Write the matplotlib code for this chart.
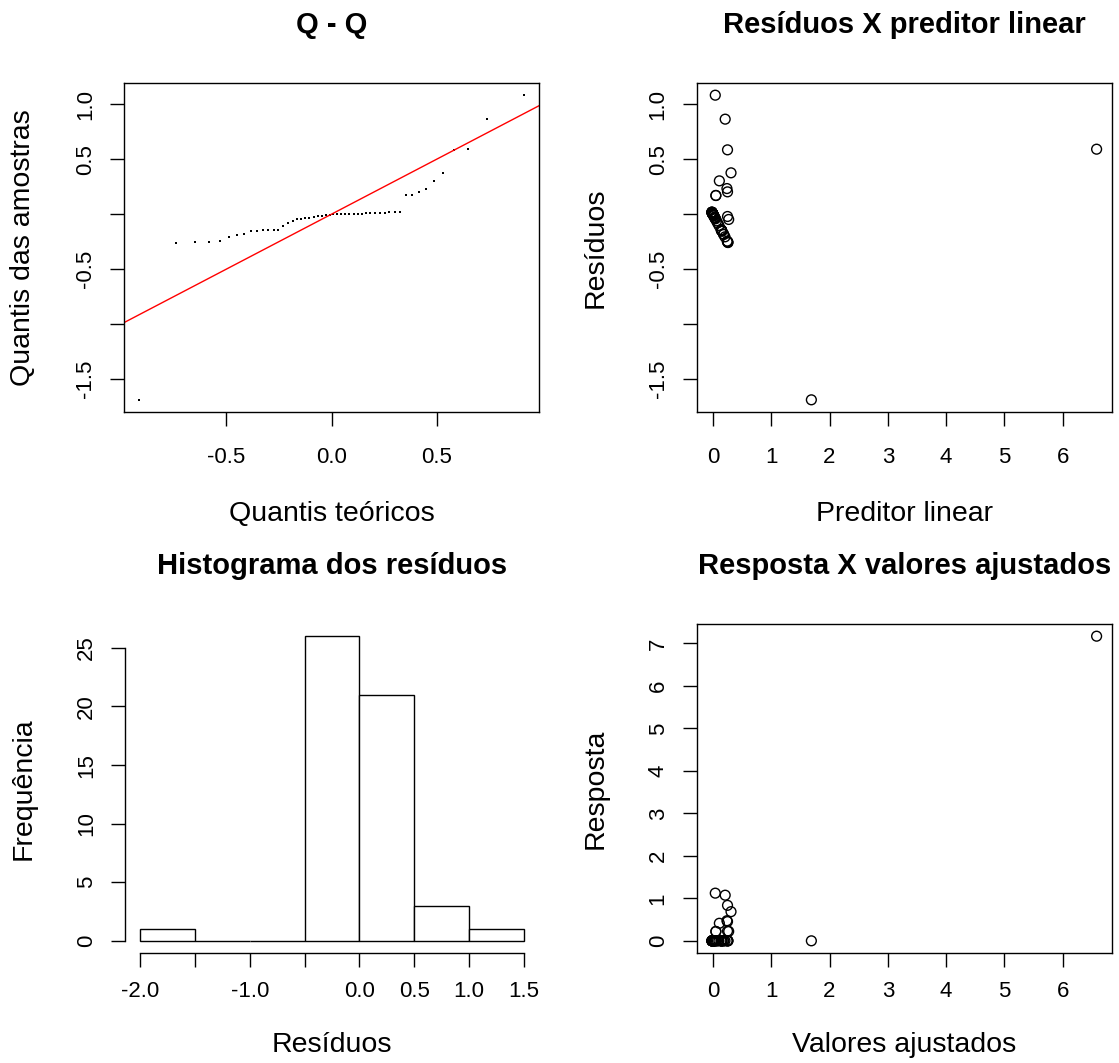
import numpy as np
import matplotlib
matplotlib.use("Agg")
import matplotlib.pyplot as plt

plt.rcParams['font.family'] = ['Liberation Sans', 'DejaVu Sans']

# Valores ajustados (preditor linear) e resíduos de cada observação
ajustados = [
    1.688, 0.258, 0.255, 0.252, 0.245, 0.206, 0.185, 0.179, 0.155, 0.152,
    0.145, 0.145, 0.145, 0.142, 0.103, 0.079, 0.061, 0.042, 0.039, 0.033,
    0.027, 0.015, 0.012, 0.009, 0.002, -0.003, -0.006, -0.006, -0.006, -0.006,
    -0.006, -0.006, -0.009, -0.012, -0.015, -0.015, -0.015, -0.018, -0.018, -0.018,
    0.25, 0.27, 0.05, 0.05, 0.25, 0.24, 0.11, 0.31, 0.25, 6.58,
    0.21, 0.04,
]
residuos = [
    -1.688, -0.258, -0.255, -0.252, -0.245, -0.206, -0.185, -0.179, -0.155, -0.152,
    -0.145, -0.145, -0.145, -0.142, -0.103, -0.079, -0.061, -0.042, -0.039, -0.033,
    -0.027, -0.015, -0.012, -0.009, -0.002, 0.003, 0.006, 0.006, 0.006, 0.006,
    0.006, 0.006, 0.009, 0.012, 0.015, 0.015, 0.015, 0.018, 0.018, 0.018,
    -0.021, -0.048, 0.170, 0.170, 0.203, 0.233, 0.303, 0.376, 0.585, 0.591,
    0.864, 1.082,
]

# Quantis teóricos do gráfico Q-Q
quantis_teoricos = [
    -0.913, -0.740, -0.649, -0.583, -0.531, -0.487, -0.449, -0.414, -0.382, -0.353,
    -0.325, -0.300, -0.275, -0.252, -0.229, -0.207, -0.185, -0.165, -0.144, -0.124,
    -0.105, -0.085, -0.066, -0.047, -0.028, -0.009,
    0.009, 0.028, 0.047, 0.066, 0.085, 0.105, 0.124, 0.144, 0.165, 0.185,
    0.207, 0.229, 0.252, 0.275, 0.300, 0.325, 0.353, 0.382, 0.414, 0.449,
    0.487, 0.531, 0.583, 0.649, 0.740, 0.913,
]

# Limites das classes do histograma
classes = [-2.0, -1.5, -1.0, -0.5, 0.0, 0.5, 1.0, 1.5]
rotulos_classes = ['-2.0', '', '-1.0', '', '0.0', '0.5', '1.0', '1.5']

ticks_res = [1.0, 0.5, 0.0, -0.5, -1.0, -1.5]
rotulos_res = ['1.0', '0.5', '', '-0.5', '', '-1.5']
ticks_qq_x = [-0.5, 0.0, 0.5]
rotulos_qq_x = ['-0.5', '0.0', '0.5']
ticks_pred = [0, 1, 2, 3, 4, 5, 6]
ticks_freq = [0, 5, 10, 15, 20, 25]
ticks_resp = [0, 1, 2, 3, 4, 5, 6, 7]

ajustados = np.array(ajustados)
residuos = np.array(residuos)
resposta = ajustados + residuos

W, H = 1119, 1063
fig = plt.figure(figsize=(W / 100, H / 100), dpi=100)


def caixa(x0, x1, y0, y1):
    return [x0 / W, 1 - y1 / H, (x1 - x0) / W, (y1 - y0) / H]


TITLE_FS = 21
LABEL_FS = 20.5
TICK_FS = 16
AX_H = 329.0


def estilo(ax, ax_w, xpad=10, xlab_off=92):
    ax.tick_params(direction='out', length=10, width=1.0, labelsize=TICK_FS,
                   pad=10, colors='black')
    ax.tick_params(axis='x', pad=xpad)
    ax.tick_params(axis='y', labelrotation=90)
    plt.setp(ax.get_yticklabels(), va='center')
    for s in ax.spines.values():
        s.set_linewidth(1.0)
        s.set_color('black')
    ax.xaxis.set_label_coords(0.5, -xlab_off / AX_H)
    ax.xaxis.label.set_va('center')
    ax.yaxis.set_label_coords(-101 / ax_w, 0.5)
    ax.yaxis.label.set_va('center')


def titulo(ax, texto):
    ax.set_title(texto, fontsize=TITLE_FS, fontweight='bold',
                 y=1 + 58 / AX_H, va='center', pad=0)


def limites(v, frac=0.04):
    lo, hi = float(np.min(v)), float(np.max(v))
    r = hi - lo
    return lo - frac * r, hi + frac * r


# ---- Q - Q ----
ax1 = fig.add_axes(caixa(124, 539, 83, 412))
amostra = np.sort(residuos)
ax1.plot(quantis_teoricos, amostra, linestyle='none', marker='s',
         markersize=1.7, markeredgewidth=0, color='black')
ax1.axline((0, 0), slope=1, color='red', linewidth=1.0)
ax1.set_xlim(*limites(quantis_teoricos))
ax1.set_ylim(*limites(amostra))
ax1.set_xticks(ticks_qq_x, rotulos_qq_x)
ax1.set_yticks(ticks_res, rotulos_res)
ax1.set_xlabel('Quantis teóricos', fontsize=LABEL_FS)
ax1.set_ylabel('Quantis das amostras', fontsize=LABEL_FS)
titulo(ax1, 'Q - Q')
estilo(ax1, 415, xpad=15, xlab_off=102)

# ---- Resíduos X preditor linear ----
ax2 = fig.add_axes(caixa(696.5, 1112, 83, 412))
ax2.scatter(ajustados, residuos, s=50, facecolors='none', edgecolors='black',
            linewidths=1.0)
ax2.set_xlim(*limites(ajustados))
ax2.set_ylim(*limites(residuos))
ax2.set_xticks(ticks_pred, [str(t) for t in ticks_pred])
ax2.set_yticks(ticks_res, rotulos_res)
ax2.set_xlabel('Preditor linear', fontsize=LABEL_FS)
ax2.set_ylabel('Resíduos', fontsize=LABEL_FS)
titulo(ax2, 'Resíduos X preditor linear')
estilo(ax2, 415.5, xpad=15, xlab_off=102)

# ---- Histograma dos resíduos ----
ax3 = fig.add_axes(caixa(124.6, 539.4, 624, 953))
contagens, _, _ = ax3.hist(residuos, bins=classes, facecolor='white',
                           edgecolor='black', linewidth=1.0)
ax3.set_xlim(*limites(classes))
ax3.set_ylim(*limites([0, np.max(contagens)]))
ax3.set_xticks(classes, rotulos_classes)
ax3.set_yticks(ticks_freq, [str(t) for t in ticks_freq])
ax3.spines['top'].set_visible(False)
ax3.spines['right'].set_visible(False)
ax3.spines['left'].set_bounds(ticks_freq[0], ticks_freq[-1])
ax3.spines['bottom'].set_bounds(classes[0], classes[-1])
ax3.set_xlabel('Resíduos', fontsize=LABEL_FS)
ax3.set_ylabel('Frequência', fontsize=LABEL_FS)
titulo(ax3, 'Histograma dos resíduos')
estilo(ax3, 414.8)

# ---- Resposta X valores ajustados ----
ax4 = fig.add_axes(caixa(696.5, 1112, 624, 953))
ax4.scatter(ajustados, resposta, s=50, facecolors='none', edgecolors='black',
            linewidths=1.0)
ax4.set_xlim(*limites(ajustados))
ax4.set_ylim(*limites(resposta))
ax4.set_xticks(ticks_pred, [str(t) for t in ticks_pred])
ax4.set_yticks(ticks_resp, [str(t) for t in ticks_resp])
ax4.set_xlabel('Valores ajustados', fontsize=LABEL_FS)
ax4.set_ylabel('Resposta', fontsize=LABEL_FS)
titulo(ax4, 'Resposta X valores ajustados')
estilo(ax4, 415.5)

fig.savefig('out.png', dpi=100, facecolor='white')
